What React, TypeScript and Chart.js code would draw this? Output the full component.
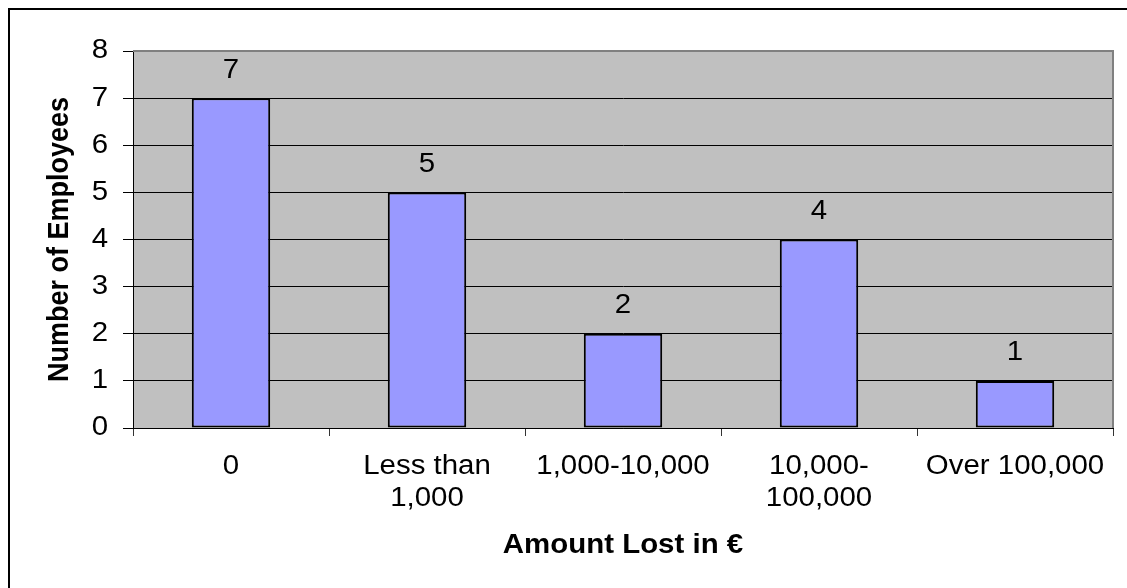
import React, { useEffect, useRef } from "react";
import { Chart, registerables } from "chart.js";

Chart.register(...registerables);

const categories: (string | string[])[] = [
  "0",
  ["Less than", "1,000"],
  "1,000-10,000",
  ["10,000-", "100,000"],
  "Over 100,000",
];
const employees: number[] = [7, 5, 2, 4, 1];
const yTicks: number[] = [0, 1, 2, 3, 4, 5, 6, 7, 8];
const xTitle = "Amount Lost in €";
const yTitle = "Number of Employees";

const FONT = '"Liberation Sans", Arial, sans-serif';
const W = 1127;
const H = 588;
const TEXT_STRETCH = 1.09;

const framePlugin = {
  id: "frameAndPlot",
  beforeInit(chart: any) {
    const ctx = chart.ctx;
    if (ctx.__stretched) return;
    const orig = ctx.fillText;
    ctx.fillText = function (text: string, x: number, y: number, mw?: number) {
      const m = this.getTransform();
      const p = m.transformPoint(new DOMPoint(x, y));
      const s = new DOMMatrix().translate(p.x, 0).scale(TEXT_STRETCH, 1).translate(-p.x, 0);
      this.save();
      this.setTransform(s.multiply(m));
      if (mw === undefined) orig.call(this, text, x, y);
      else orig.call(this, text, x, y, mw);
      this.restore();
    };
    ctx.__stretched = true;
  },
  beforeDraw(chart: any) {
    const { ctx, chartArea } = chart;
    ctx.save();
    ctx.fillStyle = "#ffffff";
    ctx.fillRect(0, 0, chart.width, chart.height);
    ctx.fillStyle = "#C0C0C0";
    ctx.fillRect(chartArea.left, chartArea.top, chartArea.right - chartArea.left, chartArea.bottom - chartArea.top);
    ctx.strokeStyle = "#000000";
    ctx.lineWidth = 2;
    ctx.beginPath();
    ctx.moveTo(9, chart.height);
    ctx.lineTo(9, 9);
    ctx.lineTo(chart.width, 9);
    ctx.stroke();
    ctx.restore();
  },
  beforeDatasetsDraw(chart: any) {
    const { ctx, chartArea } = chart;
    ctx.save();
    ctx.strokeStyle = "#808080";
    ctx.lineWidth = 2;
    ctx.beginPath();
    ctx.moveTo(chartArea.left, chartArea.top);
    ctx.lineTo(chartArea.right, chartArea.top);
    ctx.lineTo(chartArea.right, chartArea.bottom);
    ctx.stroke();
    ctx.restore();
  },
  afterDatasetsDraw(chart: any) {
    const { ctx } = chart;
    const meta = chart.getDatasetMeta(0);
    ctx.save();
    ctx.fillStyle = "#000000";
    ctx.font = `27px ${FONT}`;
    ctx.textAlign = "center";
    ctx.textBaseline = "middle";
    meta.data.forEach((el: any, i: number) => {
      ctx.fillText(String(employees[i]), el.x, el.y - 28);
    });
    ctx.restore();
  },
};

export default function App() {
  const ref = useRef<HTMLCanvasElement | null>(null);
  useEffect(() => {
    if (!ref.current) return;
    const chart = new Chart(ref.current, {
      type: "bar",
      data: {
        labels: categories,
        datasets: [
          {
            data: employees,
            backgroundColor: "#9999FF",
            borderColor: "#000000",
            borderWidth: 2,
            borderSkipped: false,
            barPercentage: 0.4,
            categoryPercentage: 1,
          },
        ],
      },
      options: {
        animation: false,
        responsive: false,
        maintainAspectRatio: false,
        devicePixelRatio: 1,
        layout: { padding: { left: 0, right: 14, top: 51, bottom: 0 } },
        plugins: {
          legend: { display: false },
          tooltip: { enabled: false },
        },
        scales: {
          x: {
            offset: true,
            grid: {
              offset: true,
              drawOnChartArea: false,
              tickLength: 8,
              color: "#333333",
              lineWidth: 1,
            },
            border: { display: true, color: "#000000", width: 1 },
            ticks: {
              color: "#000000",
              font: { family: FONT, size: 27 },
              padding: 14,
              maxRotation: 0,
              autoSkip: false,
            },
            title: {
              display: true,
              text: xTitle,
              color: "#000000",
              font: { family: FONT, size: 27, weight: "bold" },
              padding: { top: 0, bottom: 26 },
            },
            afterFit(scale: any) {
              scale.height = 160;
            },
          },
          y: {
            min: 0,
            max: 8,
            afterBuildTicks(scale: any) {
              scale.ticks = yTicks.map((v) => ({ value: v }));
            },
            grid: {
              color: (c: any) => (c.tick && c.tick.value === 8 ? "#808080" : "#000000"),
              tickColor: "#000000",
              tickLength: 10,
              lineWidth: 1,
            },
            border: { display: true, color: "#000000", width: 1 },
            ticks: {
              color: "#000000",
              font: { family: FONT, size: 27 },
              padding: 15,
            },
            title: {
              display: true,
              text: yTitle,
              color: "#000000",
              font: { family: FONT, size: 27, weight: "bold" },
              padding: { top: 44, bottom: 0 },
            },
            afterFit(scale: any) {
              scale.width = 133;
            },
          },
        },
      },
      plugins: [framePlugin],
    });
    return () => chart.destroy();
  }, []);
  return (
    <div style={{ position: "absolute", left: 0, top: 0, width: W, height: H }}>
      <canvas ref={ref} width={W} height={H} style={{ display: "block" }} />
    </div>
  );
}
